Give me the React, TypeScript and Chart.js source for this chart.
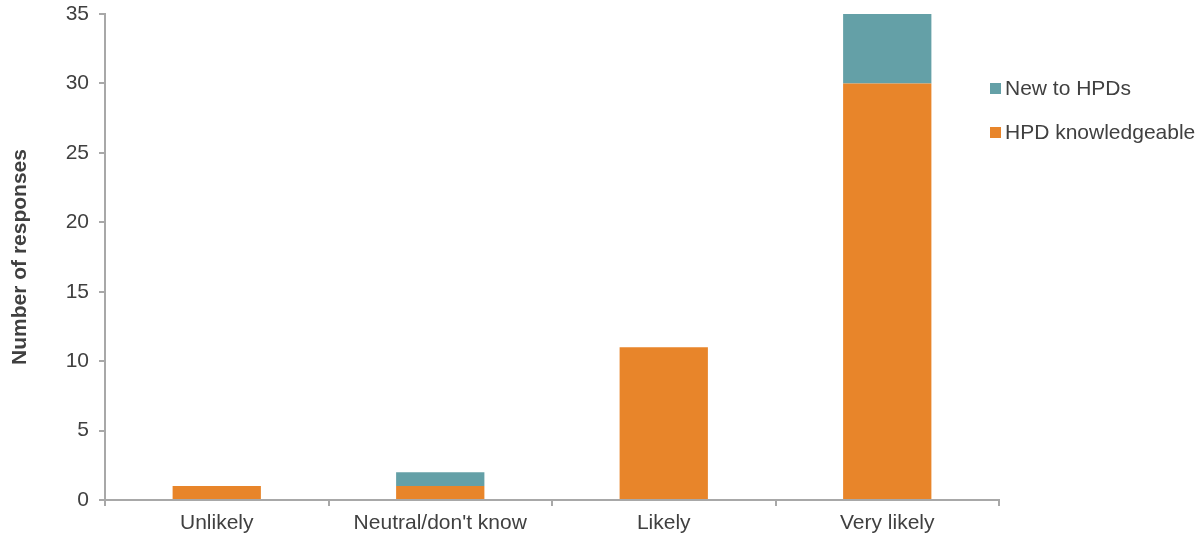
import React, { useEffect, useRef } from "react";
import { Chart, registerables } from "chart.js";

Chart.register(...registerables);

const categories = ["Unlikely", "Neutral/don't know", "Likely", "Very likely"];
const hpdKnowledgeable = [1, 1, 11, 30];
const newToHpds = [0, 1, 0, 5];
const seriesNames = ["HPD knowledgeable", "New to HPDs"];
const colors = ["#E8852A", "#64A0A7"];
const yTicksMax = 35;
const yStep = 5;
const yTitle = "Number of responses";

const FONT = "'Liberation Sans', Arial, sans-serif";
const TEXT = "#404040";
const AXIS = "#A8A8A8";

const legendPlugin = {
  id: "customLegend",
  afterDraw(chart: any) {
    const ctx = chart.ctx;
    ctx.save();
    ctx.font = `21px ${FONT}`;
    ctx.textBaseline = "middle";
    ctx.textAlign = "left";
    const items = [
      { label: seriesNames[1], color: colors[1], y: 89 },
      { label: seriesNames[0], color: colors[0], y: 133 },
    ];
    for (const it of items) {
      ctx.fillStyle = it.color;
      ctx.fillRect(990, it.y - 6, 11, 11);
      ctx.fillStyle = TEXT;
      ctx.fillText(it.label, 1005, it.y);
    }
    ctx.restore();
  },
};

export default function App() {
  const ref = useRef<HTMLCanvasElement>(null);
  useEffect(() => {
    if (!ref.current) return;
    const chart = new Chart(ref.current, {
      type: "bar",
      data: {
        labels: categories,
        datasets: [
          {
            label: seriesNames[0],
            data: hpdKnowledgeable,
            backgroundColor: colors[0],
            barPercentage: 0.395,
            categoryPercentage: 1,
          },
          {
            label: seriesNames[1],
            data: newToHpds,
            backgroundColor: colors[1],
            barPercentage: 0.395,
            categoryPercentage: 1,
          },
        ],
      },
      options: {
        animation: false,
        responsive: false,
        maintainAspectRatio: false,
        layout: { padding: { left: 0, right: 203, top: 14, bottom: 0 } },
        plugins: {
          legend: { display: false },
          tooltip: { enabled: false },
        },
        scales: {
          x: {
            stacked: true,
            grid: {
              display: true,
              drawOnChartArea: false,
              drawTicks: true,
              tickLength: 6,
              color: AXIS,
              lineWidth: 2,
              offset: true,
            },
            border: { display: true, color: AXIS, width: 2 },
            ticks: {
              color: TEXT,
              font: { family: FONT, size: 21 },
              padding: 5,
              maxRotation: 0,
            },
            afterFit(scale: any) {
              scale.height = 40;
              scale.paddingLeft = 0;
              scale.paddingRight = 0;
            },
          },
          y: {
            stacked: true,
            min: 0,
            max: yTicksMax,
            grid: {
              display: true,
              drawOnChartArea: false,
              drawTicks: true,
              tickLength: 6,
              color: AXIS,
              lineWidth: 2,
            },
            border: { display: true, color: AXIS, width: 2 },
            ticks: {
              stepSize: yStep,
              color: TEXT,
              font: { family: FONT, size: 21 },
              padding: 10,
            },
            title: {
              display: true,
              text: yTitle,
              color: TEXT,
              font: { family: FONT, size: 21, weight: "bold" },
              padding: { top: 8, bottom: 0 },
            },
            afterFit(scale: any) {
              scale.width = 105;
              scale.paddingTop = 0;
              scale.paddingBottom = 0;
            },
          },
        },
      },
      plugins: [legendPlugin],
    });
    return () => chart.destroy();
  }, []);
  return (
    <div style={{ position: "fixed", left: 0, top: 0, width: 1202, height: 540, background: "#fff" }}>
      <canvas ref={ref} width={1202} height={540} style={{ width: 1202, height: 540 }} />
    </div>
  );
}
